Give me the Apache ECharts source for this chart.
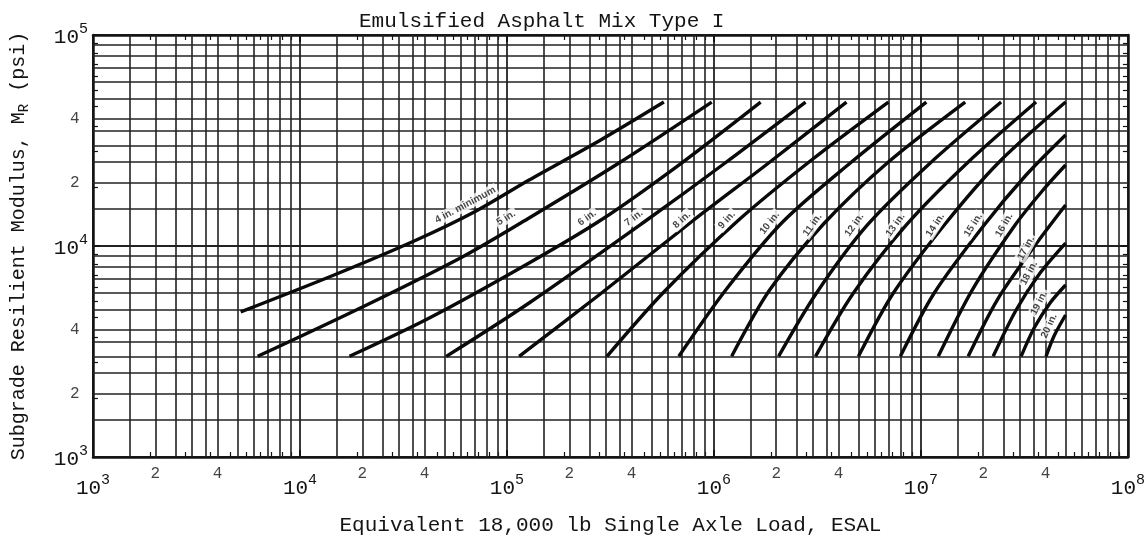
<!DOCTYPE html>
<html><head><meta charset="utf-8">
<script src="https://cdn.jsdelivr.net/npm/echarts@6/dist/echarts.min.js"></script>
<style>html,body{margin:0;padding:0;background:#fff}#c{width:1148px;height:546px}</style>
</head><body><div id="c"></div>
<script>
// ---- data: [ESAL, MR psi] points ----
const curve4  = [[5170,4870],[15020,7370],[36500,10680],[69500,14500],[127900,20550],[278400,31450],[572800,48100]];
const curve5  = [[6247,3000],[20040,5140],[60810,8870],[127900,13580],[347500,24740],[975900,48100]];
const curve6  = [[17350,3000],[42160,4558],[127900,8310],[284600,13280],[676700,24200],[1.681e6,48100]];
const curve7  = [[50920,3000],[127900,5370],[474200,13280],[1.115e6,24470],[2.771e6,48100]];
const curve8  = [[114500,3000],[278400,5860],[799000,13280],[1.837e6,24740],[4.369e6,48100]];
const curve9  = [[304200,3000],[572800,6053],[1.317e6,13280],[2.962e6,25560],[6.962e6,48100]];
const curve10 = [[676700,3000],[1.140e6,6185],[2.147e6,12990],[4.618e6,25010],[1.062e7,48100]];
const curve11 = [[1.218e6,3000],[1.858e6,6185],[3.384e6,12715],[6.962e6,25010],[1.637e7,48100]];
const curve12 = [[2.053e6,3000],[3.131e6,5990],[5.515e6,12580],[1.110e7,24740],[2.441e7,48100]];
const curve13 = [[3.096e6,3000],[4.722e6,5990],[8.503e6,12580],[1.674e7,24740],[3.601e7,48100]];
const curve14 = [[4.992e6,3000],[7.362e6,5990],[1.297e7,12580],[2.362e7,24740],[5e7,48100]];
const curve15 = [[7.957e6,3000],[1.160e7,5990],[2.022e7,12580],[3.223e7,21700],[5e7,33590]];
const curve16 = [[1.213e7,3000],[1.769e7,6185],[2.852e7,12580],[3.892e7,18430],[5e7,24200]];
const curve17 = [[1.692e7,3000],[2.336e7,5547],[3.483e7,9780],[5e7,15640]];
const curve18 = [[2.234e7,3000],[2.884e7,4975],[3.764e7,7447],[5e7,10330]];
const curve19 = [[3.049e7,3000],[3.523e7,4087],[4.207e7,5370],[5e7,6535]];
const curve20 = [[4.023e7,3000],[4.398e7,3745],[5e7,4710]];
const curves = [curve4,curve5,curve6,curve7,curve8,curve9,curve10,curve11,curve12,curve13,curve14,curve15,curve16,curve17,curve18,curve19,curve20];
const curveNames = ['4 in. minimum','5 in.','6 in.','7 in.','8 in.','9 in.','10 in.','11 in.','12 in.','13 in.','14 in.','15 in.','16 in.','17 in.','18 in.','19 in.','20 in.'];
const labelAt = [[62900,15640],[99100,13580],[243600,13580],[410500,13580],[699000,13280],[1.153e6,13280],[1.858e6,12850],[2.995e6,12580],[4.77e6,12580],[7.53e6,12580],[1.173e7,12580],[1.79e7,12580],[2.525e7,12580],[3.22e7,9780],[3.33e7,7450],[3.72e7,5370],[4.16e7,4180]];
const labelAngle = [28,32,35,37,42,47,52,55,55,55,57,58,60,62,62,63,65];

// ---- axes / ticks ----
const xRange = [1e3, 1e8];
const yRange = [1e3, 1e5];
const gridMultipliers = [1.5,2,2.5,3,3.5,4,5,6,7,8,9];
const xDecades = [1e3,1e4,1e5,1e6,1e7];
const yDecades = [1e3,1e4];
const xMinorTickValues = [2e3,4e3,2e4,4e4,2e5,4e5,2e6,4e6,2e7,4e7];
const xMinorTickText = ['2','4','2','4','2','4','2','4','2','4'];
const yMinorTickValues = [2e3,4e3,2e4,4e4];
const yMinorTickText = ['2','4','2','4'];

const titleText = 'Emulsified Asphalt Mix Type I';
const xName = 'Equivalent 18,000 lb Single Axle Load, ESAL';
const yNameParts = ['Subgrade Resilient Modulus, M', 'R', ' (psi)'];

const MONO = '"Liberation Mono","DejaVu Sans Mono",monospace';
const INK = '#141414';
const GRIDC = '#222';

const xGrid = [], yGrid = [];
xDecades.forEach(d => gridMultipliers.forEach(m => xGrid.push(d*m)));
yDecades.forEach(d => gridMultipliers.forEach(m => yGrid.push(d*m)));

const decadeFormatter = v => '{b|10}{e|' + Math.round(Math.log10(v)) + '}';
const decadeRich = {
  b: {fontFamily: MONO, fontSize: 21, color: INK, lineHeight: 26, verticalAlign: 'bottom'},
  e: {fontFamily: MONO, fontSize: 15, color: INK, lineHeight: 16, verticalAlign: 'top'}
};

function axisCommon(pos, range, showLabels, isY) {
  return {
    type: 'log', logBase: 10, min: range[0], max: range[1], position: pos,
    axisLine: {show: true, lineStyle: {color: INK, width: 2.5}},
    axisTick: {show: true, inside: true, length: 7, lineStyle: {color: INK, width: 2}},
    minorTick: {show: true, splitNumber: 10, length: 5, lineStyle: {color: INK, width: 1.2}},
    splitLine: {show: showLabels, lineStyle: {color: GRIDC, width: 1.8}},
    axisLabel: showLabels ? {show: true, formatter: decadeFormatter, rich: decadeRich,
      margin: isY ? 5 : 16} : {show: false}
  };
}

const series = [];
series.push({
  name: 'grid', type: 'line', data: [[1e3,1e3]], symbol: 'none', lineStyle: {opacity: 0},
  silent: true, z: 1,
  markLine: {
    silent: true, z: 1, symbol: ['none','none'], label: {show: false}, animation: false,
    lineStyle: {color: GRIDC, width: 1.6, type: 'solid'},
    emphasis: {disabled: true},
    data: xGrid.map(v => ({xAxis: v})).concat(yGrid.map(v => ({yAxis: v})))
  }
});
curves.forEach((c, i) => {
  series.push({
    name: curveNames[i], type: 'line', data: c, smooth: 0.3, symbol: 'none',
    lineStyle: {color: '#0a0a0a', width: 3.4}, z: 3, silent: true
  });
});
series.push({
  name: 'curve labels', type: 'scatter', symbolSize: 1, silent: true, z: 6,
  itemStyle: {color: 'rgba(0,0,0,0)'},
  data: curveNames.map((n, i) => ({name: n, value: labelAt[i], label: {rotate: labelAngle[i]}})),
  label: {show: true, position: 'inside', formatter: '{b}', color: INK, fontSize: 10, fontWeight: 'bold',
    fontFamily: '"Liberation Sans",Arial,sans-serif', backgroundColor: '#fff', padding: [1, 2]}
});
series.push({
  name: 'x tick labels', type: 'scatter', symbolSize: 1, silent: true, z: 6, clip: false,
  itemStyle: {color: 'rgba(0,0,0,0)'},
  data: xMinorTickValues.map((v, i) => ({name: xMinorTickText[i], value: [v, yRange[0]]})),
  label: {show: true, position: 'bottom', distance: 8, formatter: '{b}', color: INK, fontSize: 16, fontFamily: MONO}
});
series.push({
  name: 'y tick labels', type: 'scatter', symbolSize: 1, silent: true, z: 6, clip: false,
  itemStyle: {color: 'rgba(0,0,0,0)'},
  data: yMinorTickValues.map((v, i) => ({name: yMinorTickText[i], value: [xRange[0], v]})),
  label: {show: true, position: 'left', distance: 13, formatter: '{b}', color: INK, fontSize: 16, fontFamily: MONO}
});

const xMain = axisCommon('bottom', xRange, true, false);
xMain.name = xName; xMain.nameLocation = 'middle'; xMain.nameGap = 58;
xMain.nameTextStyle = {fontFamily: MONO, fontSize: 21, color: INK};
const yMain = axisCommon('left', yRange, true, true);
yMain.name = '{n|' + yNameParts[0] + '}{s|' + yNameParts[1] + '}{n|' + yNameParts[2] + '}';
yMain.nameLocation = 'middle'; yMain.nameGap = 62; yMain.nameRotate = 90;
yMain.nameTextStyle = {fontFamily: MONO, fontSize: 20, color: INK,
  rich: {n: {fontFamily: MONO, fontSize: 20, color: INK, lineHeight: 22, verticalAlign: 'top'},
         s: {fontFamily: MONO, fontSize: 14, color: INK, lineHeight: 16, padding: [8,0,0,0], verticalAlign: 'top'}}};

const chart = echarts.init(document.getElementById('c'), null, {renderer: 'canvas'});
chart.setOption({
  animation: false,
  backgroundColor: '#fff',
  title: {text: titleText, left: 354, top: 6, textStyle: {fontFamily: MONO, fontSize: 21, fontWeight: 'normal', color: INK}},
  grid: {left: 93, right: 18, top: 35, bottom: 89, show: false},
  xAxis: [xMain, axisCommon('top', xRange, false, false)],
  yAxis: [yMain, axisCommon('right', yRange, false, true)],
  series: series
});
</script>
</body></html>
